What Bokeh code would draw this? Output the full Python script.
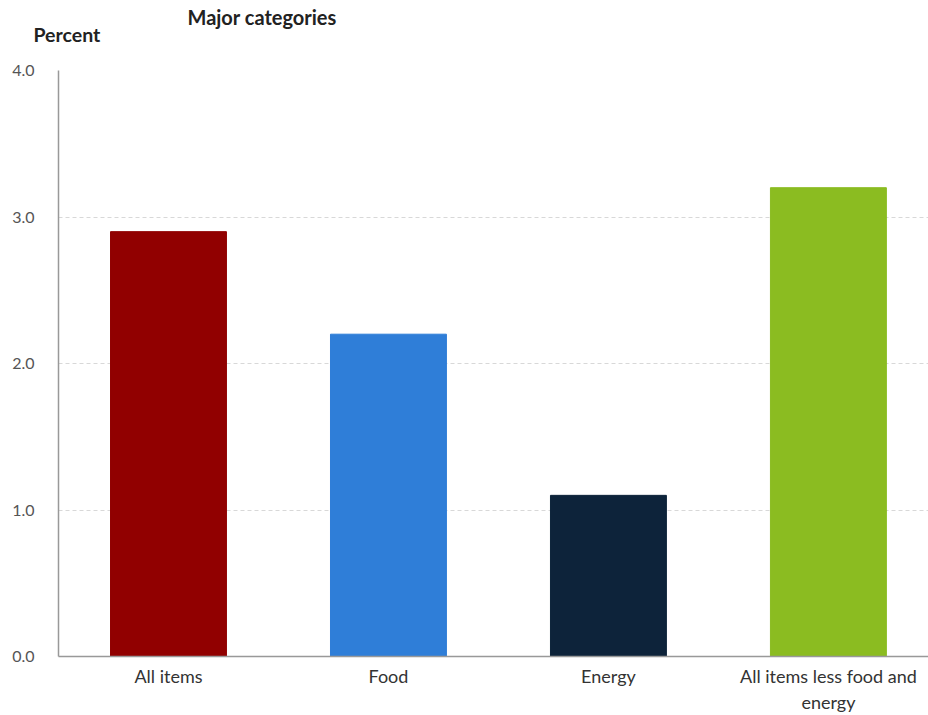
from bokeh.plotting import figure
from bokeh.models import Range1d, FixedTicker, Title, ColumnDataSource
from bokeh.embed import file_html
from bokeh.resources import INLINE

categories = ["All items", "Food", "Energy", "All items less food and\nenergy"]
values = [2.9, 2.2, 1.1, 3.2]
colors = ["#910000", "#2f7ed8", "#0d233a", "#8bbc21"]
y_ticks = [0.0, 1.0, 2.0, 3.0, 4.0]
y_tick_labels = ["0.0", "1.0", "2.0", "3.0", "4.0"]

xpos = [i + 0.5 for i in range(len(categories))]
src = ColumnDataSource(dict(x=xpos, top=values, color=colors))

p = figure(width=928, height=715, output_backend="svg", toolbar_location=None,
           x_range=Range1d(0, 3.955), y_range=Range1d(0, 4.0),
           min_border_left=58, min_border_right=0, min_border_top=70, min_border_bottom=59)
p.outline_line_color = None

p.add_layout(Title(text="Percent", align="left", offset=-25, standoff=45, vertical_align="top",
                   text_font="Lato", text_font_style="bold", text_font_size="19.5px",
                   text_color="#222222"), "above")
p.add_layout(Title(text="Major categories", align="left", offset=129, standoff=-56,
                   text_font="Lato", text_font_style="bold", text_font_size="20px",
                   text_color="#222222"), "above")

p.vbar(x="x", top="top", bottom=0, width=0.527, color="color", source=src)

p.xaxis.ticker = FixedTicker(ticks=xpos)
p.xaxis.major_label_overrides = {x: c for x, c in zip(xpos, categories)}
p.yaxis.ticker = FixedTicker(ticks=y_ticks)
p.yaxis.major_label_overrides = {t: l for t, l in zip(y_ticks, y_tick_labels)}

for ax in (p.xaxis, p.yaxis):
    ax.major_tick_line_color = None
    ax.minor_tick_line_color = None
    ax.axis_line_color = "#999999"
    ax.axis_line_width = 1.5

p.xaxis.major_label_text_font = "Lato"
p.xaxis.major_label_text_font_size = "18px"
p.xaxis.major_label_text_color = "#333333"
p.xaxis.major_label_standoff = 2
p.yaxis.major_label_text_font = "Lato"
p.yaxis.major_label_text_font_size = "16px"
p.yaxis.major_label_text_color = "#555555"
p.yaxis.major_label_standoff = 18

p.xgrid.grid_line_color = None
p.ygrid.grid_line_color = "#d8d8d8"
p.ygrid.grid_line_dash = "4 3"

open("out.html", "w").write(file_html(p, INLINE))
